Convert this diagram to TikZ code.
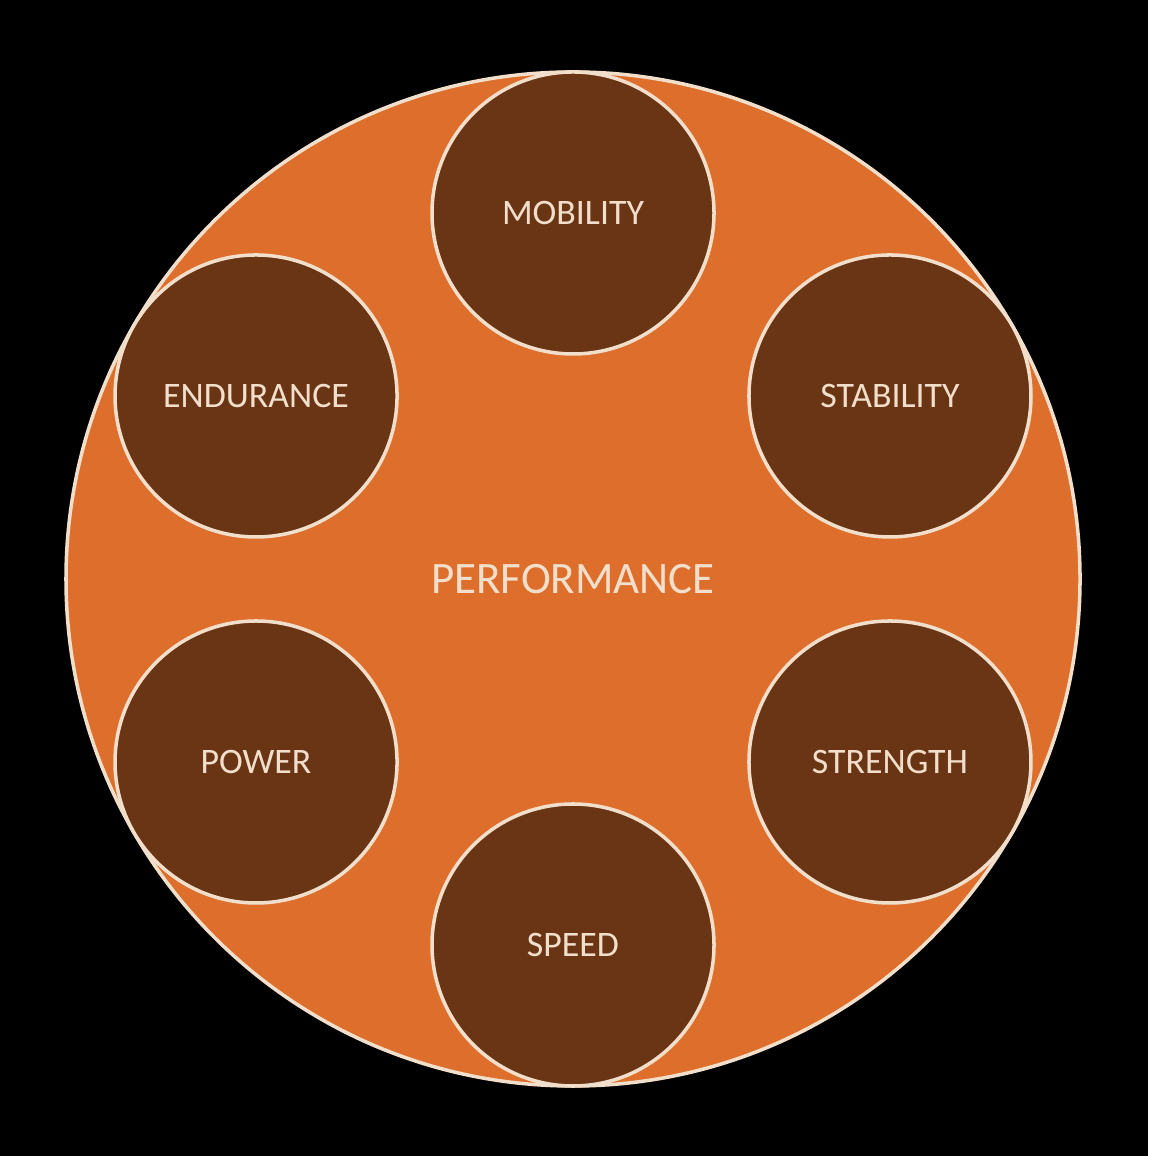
\documentclass[tikz,border=0pt]{standalone}
\usepackage{fontspec}
\setmainfont{Carlito}
\usetikzlibrary{calc,positioning}
\definecolor{perforange}{HTML}{DD6E2C}
\definecolor{skillbrown}{HTML}{6A3514}
\definecolor{rimcream}{HTML}{F2DFCB}

\begin{document}
\begin{tikzpicture}[
  outer/.style={circle, fill=perforange, draw=rimcream, line width=1pt,
    minimum size=10.14cm, inner sep=0pt, text=rimcream,
    font=\fontsize{12.8}{15}\selectfont},
  skill/.style={circle, fill=skillbrown, draw=rimcream, line width=1pt,
    minimum size=2.82cm, inner sep=0pt, text=rimcream,
    font=\fontsize{10.2}{12}\selectfont}
]

% black page
\fill[black] (0,0) rectangle (11.48,11.56);
\useasboundingbox (0,0) rectangle (11.48,11.56);

% big circle with the centre word
\node[outer] (perf) at (5.73,5.77) {PERFORMANCE};

% six skills round the rim
\foreach \ang/\name/\txt in {90/mob/MOBILITY, 30/stab/STABILITY,
    -30/str/STRENGTH, -90/spd/SPEED, -150/pow/POWER, 150/end/ENDURANCE}{
  \node[skill] (\name) at ($(perf)+(\ang:3.66)$) {\txt};
}

\end{tikzpicture}
\end{document}
